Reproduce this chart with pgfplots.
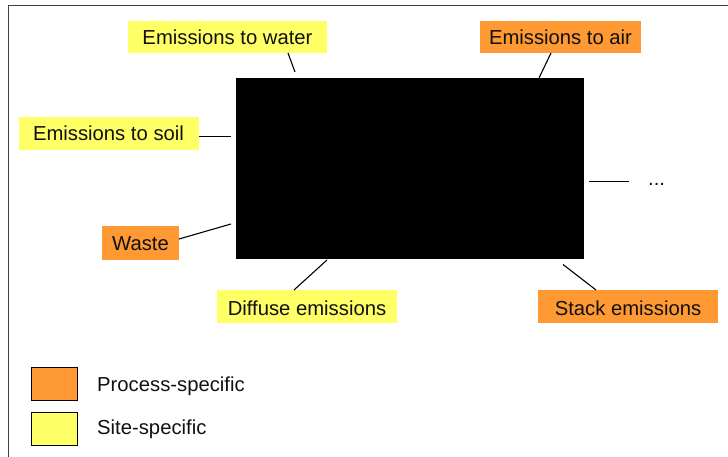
\documentclass[border=0pt]{standalone}
\usepackage{fontspec}
\setmainfont{Liberation Sans}
\usepackage{pgfplots}
\pgfplotsset{compat=1.18}
\definecolor{orng}{HTML}{FF9933}
\definecolor{ylw}{HTML}{FFFF66}
\definecolor{txt}{HTML}{111111}
\newcommand{\lblfont}{\fontsize{20.26}{24}\selectfont}
\tikzset{lbl/.style={font=\lblfont, text=txt, inner sep=0pt}}
\begin{document}
\begin{tikzpicture}
\begin{axis}[
  width=728pt, height=457pt, scale only axis,
  xmin=0, xmax=728, ymin=0, ymax=457, y dir=reverse,
  hide axis, clip=false,
]
% frame (top and left)
\addplot[draw=black!75, line width=1.2pt] coordinates {(728,5.3) (8.3,5.3) (8.3,457)};
% central black box
\addplot[fill=black, draw=none] coordinates {(236,78) (584,78) (584,259) (236,259)} -- cycle;
% label boxes
\addplot[fill=ylw, draw=none] coordinates {(128,21) (327,21) (327,53) (128,53)} -- cycle;
\addplot[fill=orng, draw=none] coordinates {(480,21) (641,21) (641,53) (480,53)} -- cycle;
\addplot[fill=ylw, draw=none] coordinates {(19,117) (199,117) (199,150) (19,150)} -- cycle;
\addplot[fill=orng, draw=none] coordinates {(102,226.5) (179,226.5) (179,260) (102,260)} -- cycle;
\addplot[fill=ylw, draw=none] coordinates {(217,290) (397,290) (397,323) (217,323)} -- cycle;
\addplot[fill=orng, draw=none] coordinates {(538,290) (718,290) (718,323) (538,323)} -- cycle;
% legend squares
\addplot[fill=orng, draw=black, line width=1pt] coordinates {(31,367) (77,367) (77,400) (31,400)} -- cycle;
\addplot[fill=ylw, draw=black, line width=1pt] coordinates {(31,412) (77,412) (77,445) (31,445)} -- cycle;
% connector lines
\addplot[black, line width=1.1pt] coordinates {(288,53) (295,72)};
\addplot[black, line width=1.1pt] coordinates {(551,53) (539,78)};
\addplot[black, line width=1.1pt] coordinates {(199,136.5) (231,136.5)};
\addplot[black, line width=1.1pt] coordinates {(179,239) (231,224)};
\addplot[black, line width=1.1pt] coordinates {(294,290) (327,260)};
\addplot[black, line width=1.1pt] coordinates {(589,181.5) (629,181.5)};
\addplot[black, line width=1.1pt] coordinates {(563,264.5) (596,290)};
% texts
\node[lbl, anchor=base] at (axis cs:227.5,44.5) {Emissions to water};
\node[lbl, anchor=base] at (axis cs:560.5,44.5) {Emissions to air};
\node[lbl, anchor=base] at (axis cs:108.5,141) {Emissions to soil};
\node[lbl, anchor=base] at (axis cs:140.5,250.7) {Waste};
\node[lbl, anchor=base] at (axis cs:307,315.3) {Diffuse emissions};
\node[lbl, anchor=base] at (axis cs:628,315.3) {Stack emissions};
\node[lbl, anchor=base west] at (axis cs:648,185.5) {...};
\node[lbl, anchor=base west] at (axis cs:97,391.3) {Process-specific};
\node[lbl, anchor=base west] at (axis cs:97,434.7) {Site-specific};
\end{axis}
\pgfresetboundingbox
\path (current axis.south west) rectangle (current axis.north east);
\end{tikzpicture}
\end{document}
